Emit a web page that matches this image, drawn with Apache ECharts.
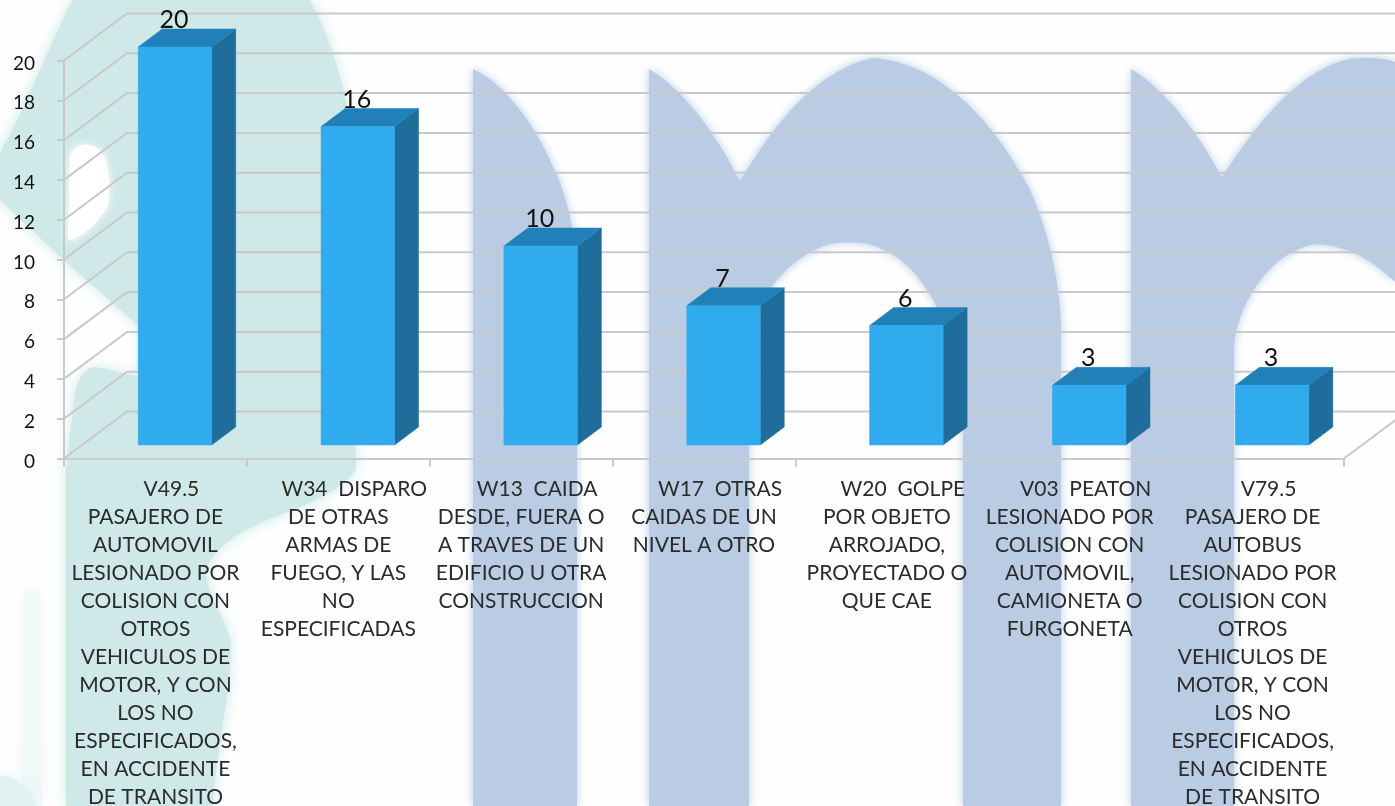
<!DOCTYPE html>
<html><head><meta charset="utf-8">
<style>html,body{margin:0;padding:0;background:#fff}#c{width:1395px;height:806px}</style>
<script src="https://cdn.jsdelivr.net/npm/echarts@6/dist/echarts.min.js"></script>
</head><body><div id="c"></div>
<script>
var categories = [
 "V49.5\nPASAJERO DE\nAUTOMOVIL\nLESIONADO POR\nCOLISION CON\nOTROS\nVEHICULOS DE\nMOTOR, Y CON\nLOS NO\nESPECIFICADOS,\nEN ACCIDENTE\nDE TRANSITO",
 "W34  DISPARO\nDE OTRAS\nARMAS DE\nFUEGO, Y LAS\nNO\nESPECIFICADAS",
 "W13  CAIDA\nDESDE, FUERA O\nA TRAVES DE UN\nEDIFICIO U OTRA\nCONSTRUCCION",
 "W17  OTRAS\nCAIDAS DE UN\nNIVEL A OTRO",
 "W20  GOLPE\nPOR OBJETO\nARROJADO,\nPROYECTADO O\nQUE CAE",
 "V03  PEATON\nLESIONADO POR\nCOLISION CON\nAUTOMOVIL,\nCAMIONETA O\nFURGONETA",
 "V79.5\nPASAJERO DE\nAUTOBUS\nLESIONADO POR\nCOLISION CON\nOTROS\nVEHICULOS DE\nMOTOR, Y CON\nLOS NO\nESPECIFICADOS,\nEN ACCIDENTE\nDE TRANSITO"
];
var values = [20, 16, 10, 7, 6, 3, 3];
var gridTicks = [0, 2, 4, 6, 8, 10, 12, 14, 16, 18, 20];

var FONT = 'Lato, "Open Sans", sans-serif';
var LINE = '#c9c9c9';
var DEPTH_X = 63, DEPTH_Y = 47;
var BAR_W = 73.5, BAR_SHIFT_X = 19.5, BAR_SHIFT_Y = 13.5, BAR_DX = 24, BAR_DY = 18;
var TEAL = '#cfe9e8', BLUE = '#b9cce4';

var watermark = [
 {fill: '#f0f8f8', blur: 14, d: 'M24 590 L40 590 L42 806 L22 806 Z'},
 {fill: '#dff1f0', blur: 14, d: 'M0 775 C16 777 30 788 36 806 L0 806 Z'},
 {fill: TEAL, blur: 14, d: 'M72 0 L310 0 C328 34 345 80 350 130 L356 470 C340 492 300 508 267 520 C240 532 215 545 206 570 C205 595 228 620 231 645 C230 700 216 750 213 806 L66 806 L66 470 L74 400 C76 380 85 367 96 367 L140 377 L140 327 L67 263 L0 200 L0 153 C24 110 48 50 72 0 Z'},
 {fill: '#ffffff', blur: 9, d: 'M70 155 C78 140 96 142 104 156 C110 170 110 190 108 206 C96 226 78 240 68 240 Z'},
 {fill: BLUE, blur: 10, d: 'M473 69 C505 84 535 125 552 165 C565 190 574 225 577 270 L577 806 L473 806 Z'},
 {fill: BLUE, blur: 10, d: 'M649 69 C680 87 715 130 740 182 C770 130 815 70 873 58 C930 62 985 105 1030 190 C1050 235 1059 280 1061 325 L1061 806 L963 806 L963 400 C958 340 930 275 890 253 C870 241 850 241 830 244 C790 256 755 295 749 345 L749 806 L649 806 Z'},
 {fill: BLUE, blur: 10, d: 'M1131 69 C1162 87 1197 130 1222 178 C1252 130 1297 70 1350 59 C1365 57 1385 58 1395 62 L1395 282 C1372 260 1350 246 1315 244 C1275 251 1240 295 1234 345 L1234 806 L1131 806 Z'}
];

var firstLine = function (s) {
  var p = s.split('\n');
  return p.map(function (t, i) { return (i === 0 ? '{a|' : '{b|') + t + '}'; }).join('\n');
};

var option = {
  backgroundColor: '#fefefe',
  animation: false,
  grid: {left: 64, right: 51, top: 60.5, bottom: 347.5, containLabel: false, outerBoundsMode: 'none'},
  xAxis: {
    type: 'category', data: categories, boundaryGap: true,
    axisLine: {show: true, lineStyle: {color: LINE, width: 2}},
    axisTick: {show: true, length: 8, lineStyle: {color: LINE, width: 2}},
    axisLabel: {
      interval: 0, margin: 17, hideOverlap: false, formatter: firstLine, verticalAlign: 'top',
      rich: {
        a: {fontFamily: FONT, fontSize: 21, lineHeight: 28, color: '#2b2b2b', padding: [0, 0, 0, 32]},
        b: {fontFamily: FONT, fontSize: 21, lineHeight: 28, color: '#2b2b2b'}
      }
    }
  },
  yAxis: {
    type: 'value', min: 0, max: 20, interval: 2,
    axisLine: {show: true, lineStyle: {color: LINE, width: 2}},
    axisTick: {show: true, length: 7, lineStyle: {color: LINE, width: 2}},
    splitLine: {show: false},
    axisLabel: {margin: 29, verticalAlign: 'top', lineHeight: 6, fontFamily: FONT, fontSize: 19, color: '#111'}
  },
  series: [
    {
      type: 'custom', z: -5, silent: true, coordinateSystem: 'none', clip: false, data: [0],
      renderItem: function () {
        return {type: 'group', children: watermark.map(function (w) {
          return {type: 'path', shape: {pathData: w.d, layout: 'none'}, x: 0, y: 0,
            style: {fill: w.fill, shadowBlur: w.blur, shadowColor: w.fill}};
        })};
      }
    },
    {
      type: 'custom', z: 1, silent: true, clip: false,
      data: gridTicks.map(function (v) { return [0, v]; }),
      encode: {x: 0, y: 1},
      renderItem: function (params, api) {
        var y = api.coord([0, api.value(1)])[1];
        var cs = params.coordSys, x0 = cs.x, x1 = cs.x + cs.width;
        var children = [{type: 'polyline',
          shape: {points: [[x0, y], [x0 + DEPTH_X, y - DEPTH_Y], [x1 + DEPTH_X, y - DEPTH_Y]]},
          style: {fill: 'none', stroke: LINE, lineWidth: 2}}];
        if (api.value(1) === 0) {
          children.push({type: 'line', shape: {x1: x1, y1: y, x2: x1 + DEPTH_X, y2: y - DEPTH_Y},
            style: {stroke: LINE, lineWidth: 2}});
        }
        return {type: 'group', children: children};
      }
    },
    {
      type: 'custom', z: 3, silent: true, clip: false,
      data: values.map(function (v, i) { return [i, v]; }),
      encode: {x: 0, y: 1},
      renderItem: function (params, api) {
        var i = api.value(0), v = api.value(1);
        var b = api.coord([i, 0]), t = api.coord([i, v]);
        var l = b[0] + BAR_SHIFT_X - BAR_W / 2, r = l + BAR_W;
        var yb = b[1] - BAR_SHIFT_Y, yt = t[1] - BAR_SHIFT_Y;
        var poly = function (pts, fill) {
          return {type: 'polygon', shape: {points: pts}, style: {fill: fill, stroke: fill, lineWidth: 0.5}};
        };
        return {type: 'group', children: [
          poly([[r, yt], [r + BAR_DX, yt - BAR_DY], [r + BAR_DX, yb - BAR_DY], [r, yb]], '#1e6d9b'),
          poly([[l, yt], [l + BAR_DX, yt - BAR_DY], [r + BAR_DX, yt - BAR_DY], [r, yt]], '#2280b8'),
          poly([[l, yt], [r, yt], [r, yb], [l, yb]], '#30acee'),
          {type: 'text', x: (l + r) / 2 - 1, y: yt - 27, style: {
            text: String(v), fill: '#111', font: '25px ' + FONT,
            textAlign: 'center', textVerticalAlign: 'middle'}}
        ]};
      }
    }
  ]
};
var chart = echarts.init(document.getElementById('c'), null, {renderer: 'canvas'});
chart.setOption(option);
</script></body></html>
